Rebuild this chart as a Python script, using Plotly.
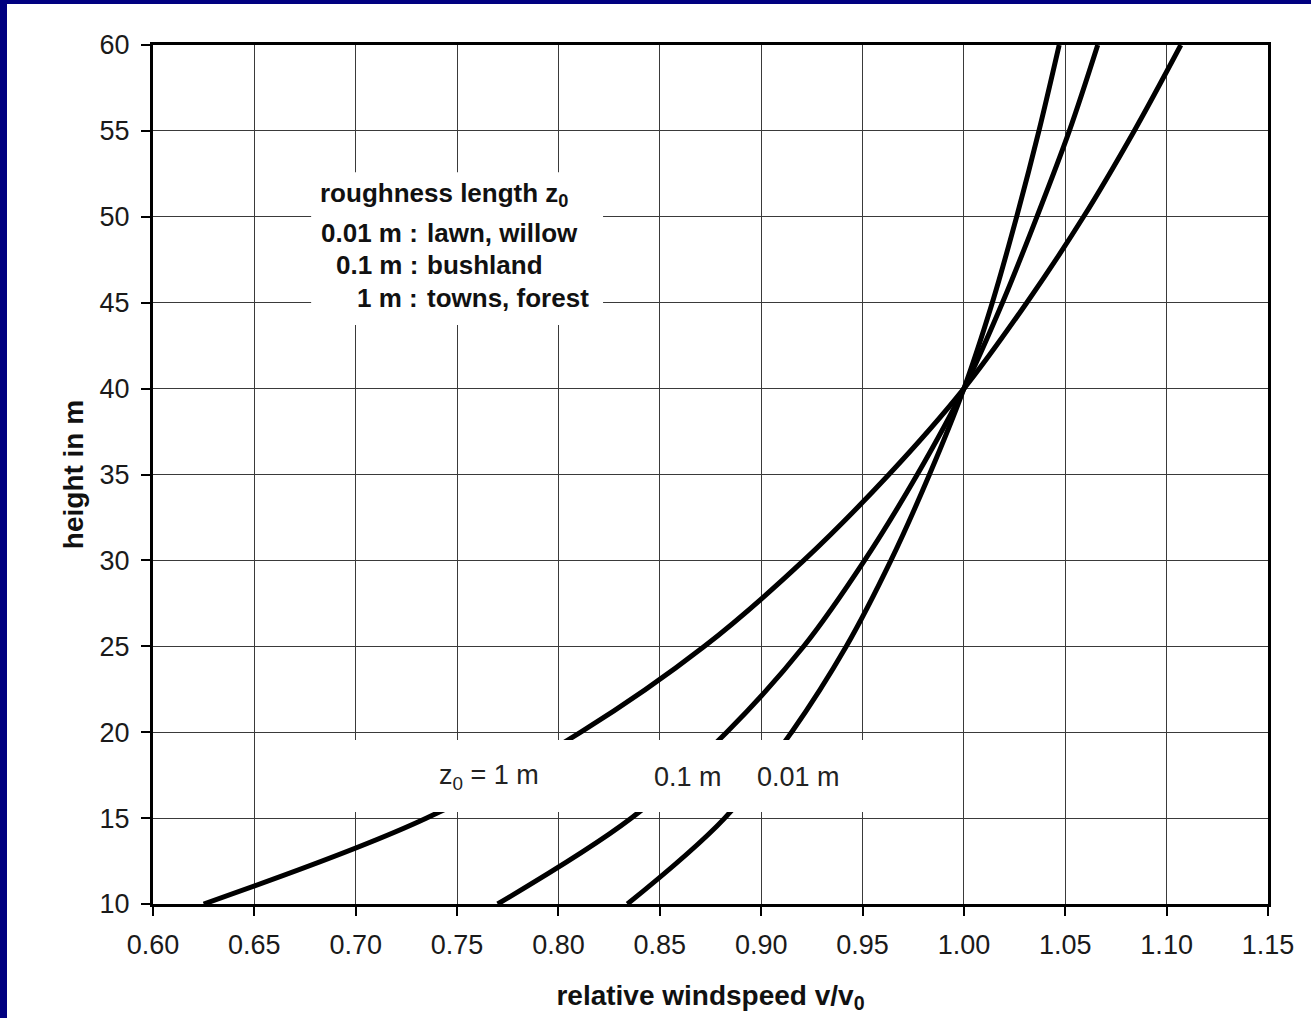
import plotly.graph_objects as go

# ---- data ----
heights = [10, 15, 20, 25, 30, 35, 40, 45, 50, 55, 60]
speed_z0_1m = [0.625, 0.735, 0.811, 0.872, 0.921, 0.963, 1.000, 1.031, 1.059, 1.084, 1.107]
speed_z0_01m = [0.770, 0.836, 0.883, 0.921, 0.951, 0.977, 1.000, 1.019, 1.036, 1.052, 1.066]
speed_z0_001m = [0.834, 0.882, 0.915, 0.942, 0.964, 0.983, 1.000, 1.014, 1.026, 1.037, 1.047]

x_ticks = [0.60, 0.65, 0.70, 0.75, 0.80, 0.85, 0.90, 0.95, 1.00, 1.05, 1.10, 1.15]
y_ticks = [10, 15, 20, 25, 30, 35, 40, 45, 50, 55, 60]

legend_title = "roughness length z<sub>0</sub>"
legend_keys = ["0.01 m :", "0.1 m :", "1 m :"]
legend_vals = ["lawn, willow", "bushland", "towns, forest"]
curve_labels = ["z<sub>0</sub> = 1 m", "0.1 m", "0.01 m"]

FONT = "Liberation Sans, Arial, Helvetica, sans-serif"
INK = "#111111"

fig = go.Figure()
for vals in (speed_z0_1m, speed_z0_01m, speed_z0_001m):
    fig.add_trace(go.Scatter(
        x=vals, y=heights, mode="lines",
        line=dict(color="black", width=5, shape="spline", smoothing=1.0),
        showlegend=False, hoverinfo="skip"))

# white boxes behind the text blocks (they hide grid and curves there)
fig.add_shape(type="rect", xref="x", yref="y", x0=0.678, x1=0.822, y0=43.7, y1=52.6,
              fillcolor="white", line=dict(width=0), layer="above")
fig.add_shape(type="rect", xref="x", yref="y", x0=0.666, x1=0.989, y0=15.35, y1=19.55,
              fillcolor="white", line=dict(width=0), layer="above")

# blue frame strips (top and left edges of the image)
fig.add_shape(type="rect", xref="paper", yref="paper",
              x0=-153/1115, x1=(7-153)/1115, y0=-114/859, y1=1018/859 + 0.01,
              fillcolor="#000080", line=dict(width=0), layer="above")
fig.add_shape(type="rect", xref="paper", yref="paper",
              x0=-153/1115, x1=1158/1115, y0=(904-4)/859, y1=904/859 + 0.01,
              fillcolor="#000080", line=dict(width=0), layer="above")

# legend text block
fig.add_annotation(x=0.6814, y=51.27, xref="x", yref="y", text="<b>" + legend_title + "</b>",
                   showarrow=False, xanchor="left", yanchor="middle",
                   font=dict(family=FONT, size=26, color=INK))
rows_y = [49.06, 47.19, 45.27]
for key, val, yy in zip(legend_keys, legend_vals, rows_y):
    fig.add_annotation(x=0.7315, y=yy, xref="x", yref="y", text="<b>" + key + "</b>",
                       showarrow=False, xanchor="right", yanchor="middle",
                       font=dict(family=FONT, size=26, color=INK))
    fig.add_annotation(x=0.7340, y=yy, xref="x", yref="y", text="<b>" + val + "</b>",
                       showarrow=False, xanchor="left", yanchor="middle",
                       font=dict(family=FONT, size=26, color=INK))

# curve labels
for lab, xx in zip(curve_labels, [0.7658, 0.8639, 0.9182]):
    fig.add_annotation(x=xx, y=17.39, xref="x", yref="y", text=lab,
                       showarrow=False, xanchor="center", yanchor="middle",
                       font=dict(family=FONT, size=27, color="#222222"))

axis_common = dict(
    showgrid=True, gridcolor="#3a3a3a", gridwidth=1.2,
    showline=True, linecolor="black", linewidth=3, mirror=True,
    ticks="outside", ticklen=9, tickwidth=1.5, tickcolor="black",
    zeroline=False,
    tickfont=dict(family=FONT, size=27, color="#1a1a1a"),
)

fig.update_xaxes(range=[0.60, 1.15], tickvals=x_ticks,
                 ticktext=[f"{v:.2f}" for v in x_ticks],
                 ticklabelstandoff=6,
                 title=dict(text="<b>relative windspeed v/v<sub>0</sub></b>", standoff=26,
                            font=dict(family=FONT, size=28, color=INK)),
                 **axis_common)
fig.update_yaxes(range=[10, 60], tickvals=y_ticks,
                 ticktext=[str(v) for v in y_ticks],
                 ticklabelstandoff=6,
                 title=dict(text="<b>height in m</b>", standoff=8,
                            font=dict(family=FONT, size=28, color=INK)),
                 **axis_common)

fig.update_layout(
    width=1311, height=1018,
    margin=dict(l=153, r=43, t=45, b=114, autoexpand=False),
    paper_bgcolor="white", plot_bgcolor="white",
    showlegend=False,
)

fig.write_html("out.html", config={"displayModeBar": False},
               post_script="document.body.style.margin='0';document.body.style.overflow='hidden';")
